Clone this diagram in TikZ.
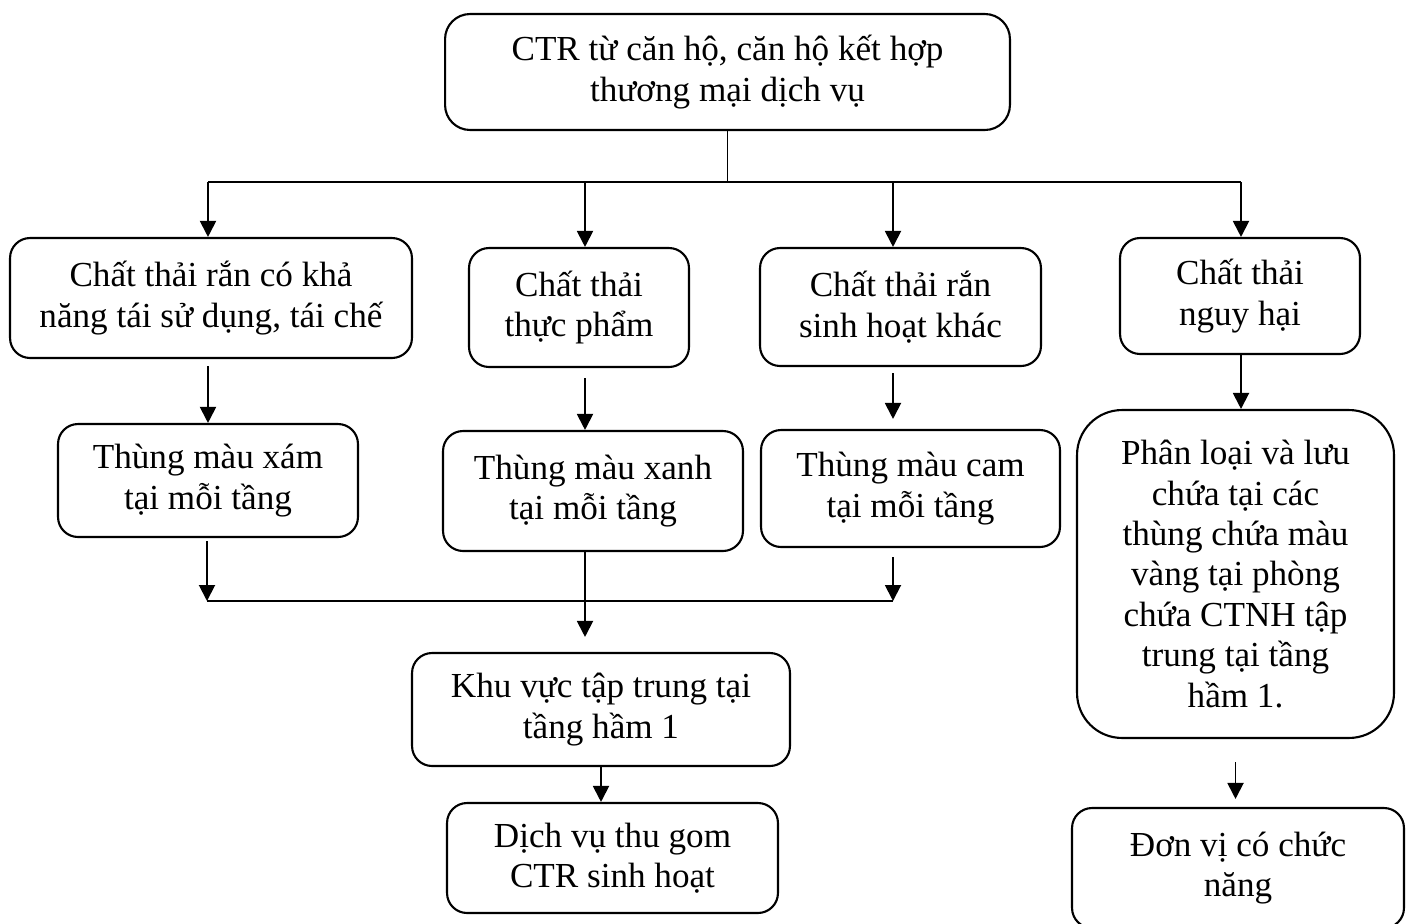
\documentclass[tikz,border=0pt]{standalone}
\usepackage{fontspec}
\setmainfont{Liberation Serif}
\usetikzlibrary{arrows.meta}
\tikzset{
  box/.style={draw, line width=1.2pt, rounded corners=0.4cm, align=center, inner sep=0pt,
    font=\fontsize{20}{23}\selectfont},
  arr/.style={line width=1.1pt, -{Triangle[length=0.32cm,width=0.32cm]}},
  ln/.style={line width=1.1pt}
}
\begin{document}
\begin{tikzpicture}[x=0.02cm, y=-0.02cm]
\useasboundingbox (0,0) rectangle (1416,923);
\node[box, rounded corners=0.5cm, minimum width=11.3cm, minimum height=2.32cm] (top) at (727.5,72)
  {CTR từ căn hộ, căn hộ kết hợp\\thương mại dịch vụ};
\node[box, minimum width=8.04cm, minimum height=2.4cm] (b1) at (211,298)
  {Chất thải rắn có khả\\năng tái sử dụng, tái chế};
\node[box, minimum width=4.4cm, minimum height=2.38cm] (b2) at (579,307.5)
  {Chất thải\\thực phẩm};
\node[box, minimum width=5.62cm, minimum height=2.36cm] (b3) at (900.5,307)
  {Chất thải rắn\\sinh hoạt khác};
\node[box, minimum width=4.8cm, minimum height=2.32cm] (b4) at (1240,296)
  {Chất thải\\nguy hại};
\node[box, minimum width=6cm, minimum height=2.26cm] (g1) at (208,480.5)
  {Thùng màu xám\\tại mỗi tầng};
\node[box, minimum width=6cm, minimum height=2.4cm] (g2) at (593,491)
  {Thùng màu xanh\\tại mỗi tầng};
\node[box, minimum width=5.98cm, minimum height=2.34cm] (g3) at (910.5,488.5)
  {Thùng màu cam\\tại mỗi tầng};
\node[box, rounded corners=0.9cm, minimum width=6.34cm, minimum height=6.56cm] (p) at (1235.5,574)
  {Phân loại và lưu\\chứa tại các\\thùng chứa màu\\vàng tại phòng\\chứa CTNH tập\\trung tại tầng\\hầm 1.};
\node[box, minimum width=7.56cm, minimum height=2.26cm] (k) at (601,709.5)
  {Khu vực tập trung tại\\tầng hầm 1};
\node[box, minimum width=6.62cm, minimum height=2.2cm] (d) at (612.5,858)
  {Dịch vụ thu gom\\CTR sinh hoạt};
\node[box, minimum width=6.64cm, minimum height=2.4cm] (e) at (1238,868)
  {Đơn vị có chức\\năng};
% upper branching
\coordinate (busL) at (208,182);
\coordinate (busR) at (1241,182);
\coordinate (t2) at (585,182);
\coordinate (t3) at (893,182);
\draw[ln] (top.south) -- (top.south |- busL);
\draw[ln] (busL) -- (busR);
\draw[arr] (busL) -- (busL |- b1.north);
\draw[arr] (t2) -- (t2 |- b2.north);
\draw[arr] (t3) -- (t3 |- b3.north);
\draw[arr] (busR) -- (busR |- b4.north);
\draw[arr, shorten <=0.14cm] (b1.south -| busL) -- (busL |- g1.north);
\draw[arr, shorten <=0.2cm] (b2.south -| t2) -- (t2 |- g2.north);
\draw[arr, shorten <=0.12cm, shorten >=0.2cm] (b3.south -| t3) -- (t3 |- g3.north);
\draw[arr] (b4.south -| busR) -- (busR |- p.north);
% lower joining
\coordinate (busL2) at (207,601);
\coordinate (busR2) at (893,601);
\draw[arr, shorten <=0.06cm] (g1.south -| busL2) -- (busL2);
\draw[arr, shorten <=0.18cm] (g3.south -| busR2) -- (busR2);
\draw[ln] (busL2) -- (busR2);
\draw[arr, shorten >=0.3cm] (g2.south -| t2) -- (t2 |- k.north);
\draw[arr] (k.south) -- (k.south |- d.north);
\draw[arr, shorten <=0.46cm, shorten >=0.16cm] (p.south) -- (p.south |- e.north);
\end{tikzpicture}
\end{document}
